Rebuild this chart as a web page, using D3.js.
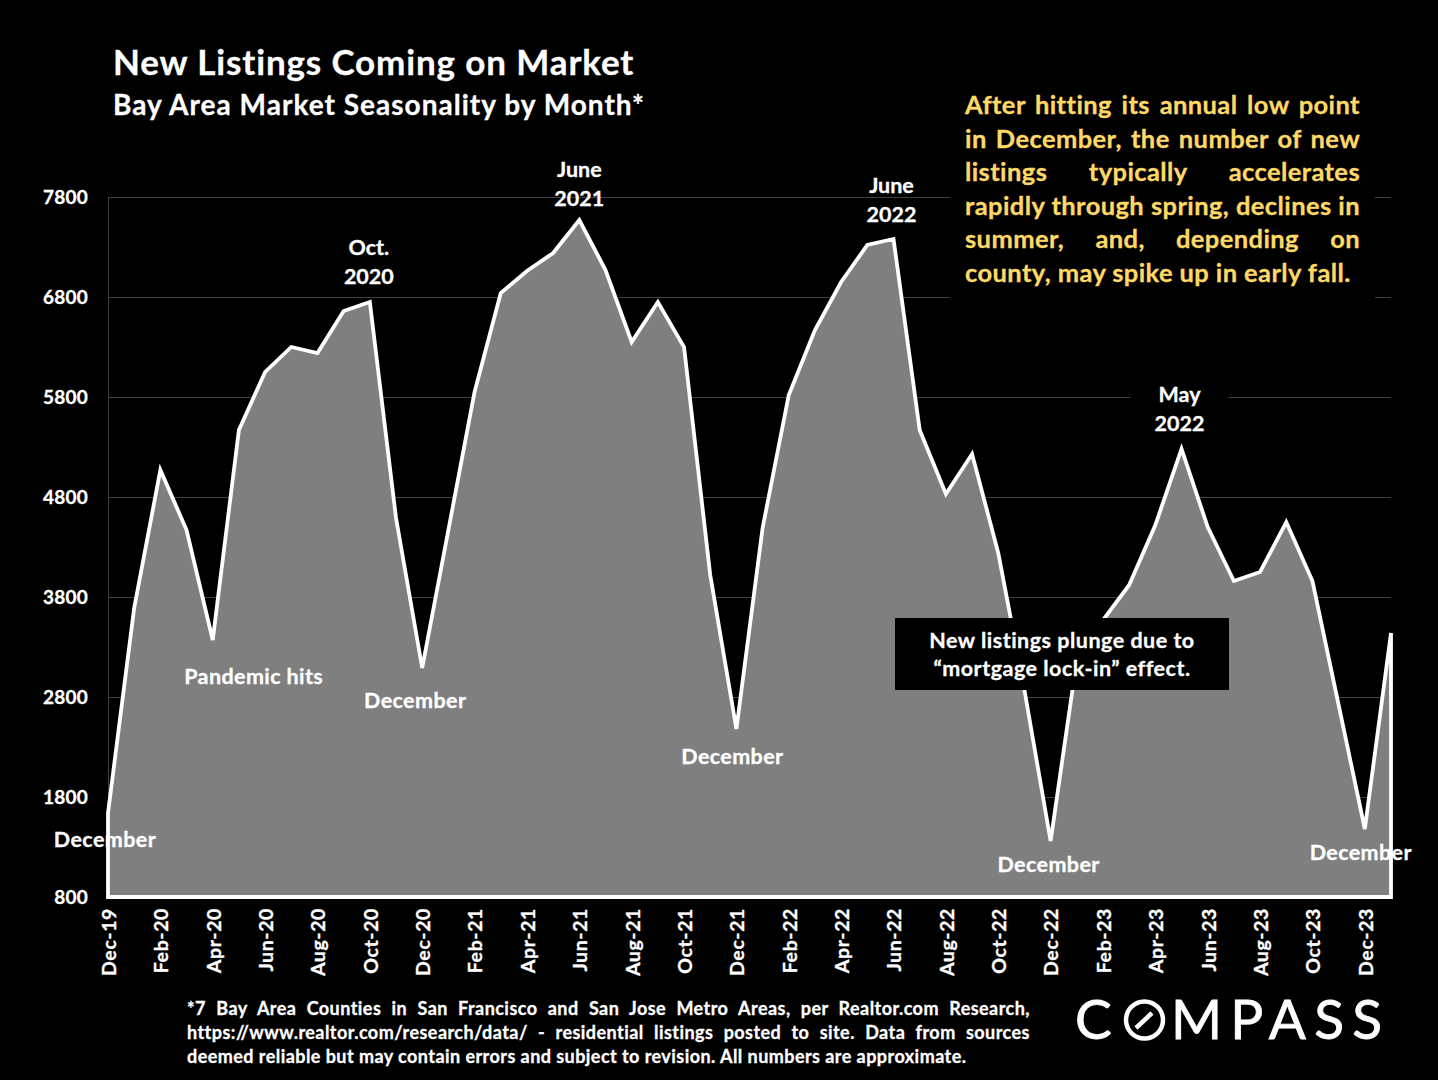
<!DOCTYPE html>
<html>
<head>
<meta charset="utf-8">
<script src="https://cdn.jsdelivr.net/npm/d3@7"></script>
<style>
html, body { margin: 0; padding: 0; background: #000; }
svg { display: block; }
text { font-family: Lato, "Open Sans", sans-serif; font-weight: 700; fill: #fff; stroke: #fff; stroke-width: 0.3px; }
</style>
</head>
<body>
<div id="chart"></div>
<script>
// data
var months = ["Dec-19","Jan-20","Feb-20","Mar-20","Apr-20","May-20","Jun-20","Jul-20","Aug-20","Sep-20","Oct-20","Nov-20",
	"Dec-20","Jan-21","Feb-21","Mar-21","Apr-21","May-21","Jun-21","Jul-21","Aug-21","Sep-21","Oct-21","Nov-21",
	"Dec-21","Jan-22","Feb-22","Mar-22","Apr-22","May-22","Jun-22","Jul-22","Aug-22","Sep-22","Oct-22","Nov-22",
	"Dec-22","Jan-23","Feb-23","Mar-23","Apr-23","May-23","Jun-23","Jul-23","Aug-23","Sep-23","Oct-23","Nov-23",
	"Dec-23","Jan-24"];
var listings = [1640,3690,5070,4470,3370,5470,6050,6300,6240,6660,6750,4590,
	3090,4470,5850,6840,7060,7240,7570,7070,6350,6750,6300,4020,
	2480,4490,5820,6470,6950,7320,7380,5470,4830,5230,4240,2870,
	1360,3170,3570,3920,4520,5280,4500,3960,4050,4550,3960,2720,
	1480,3440];
var yTicks = [800,1800,2800,3800,4800,5800,6800,7800];
var sideNote = ["After hitting its annual low point","in December, the number of new","listings typically accelerates",
	"rapidly through spring, declines in","summer, and, depending on","county, may spike up in early fall."];
var footnote = ["*7 Bay Area Counties in San Francisco and San Jose Metro Areas, per Realtor.com Research,",
	"https://www.realtor.com/research/data/ - residential listings posted to site.  Data from sources",
	"deemed reliable but may contain errors and subject to revision. All numbers are approximate."];
var calloutLines = ["New listings plunge due to","\u201cmortgage lock-in\u201d effect."];

var svg = d3.select("#chart").append("svg").attr("width",1438).attr("height",1080);

var x = d3.scalePoint().domain(months).range([108,1391]);
var y = d3.scaleLinear().domain([800,7800]).range([897,197]);

// gridlines + y labels
var yAxis = svg.append("g").attr("transform","translate(108,0)")
	.call(d3.axisLeft(y).tickValues(yTicks).tickFormat(d3.format("d")).tickSize(-1283).tickPadding(20));
yAxis.selectAll(".tick line").attr("stroke","#404040").attr("stroke-width",1);
yAxis.select(".domain").attr("stroke","#404040").attr("d","M0.5,197V897");
yAxis.selectAll("text").attr("dy","0.32em").style("font-size","19px").style("letter-spacing","0.2px");

// the area, closed so the white line also runs down the sides and along the base
var area = d3.area().x(function(d,i){ return x(months[i]); }).y0(y(800)).y1(function(d){ return y(d); });
svg.append("path").datum(listings).attr("d",area)
	.attr("fill","#7f7f7f").attr("stroke","#fff").attr("stroke-width",3.8).attr("stroke-linejoin","miter");

// x labels
var xAxis = svg.append("g").attr("transform","translate(0,897)")
	.call(d3.axisBottom(x).tickValues(months.filter(function(d,i){ return i%2==0 && i<49; })).tickSize(0));
xAxis.select(".domain").remove();
xAxis.selectAll("text")
	.attr("transform","rotate(-90)").attr("text-anchor","end")
	.attr("x",-11).attr("y",0.5).attr("dy","0.35em")
	.style("font-size","19.5px").style("letter-spacing","0.6px");

// stretches a line to a given width by opening up the word gaps
function justified(sel,width) {
	sel.each(function(){
		var t = d3.select(this);
		var gaps = t.text().trim().split(/\s+/).length-1;
		var extra = width-this.getComputedTextLength();
		t.style("word-spacing",(extra/gaps)+"px");
	});
}

// stretches a line to a given width by opening up the letters
function fitted(sel,width) {
	sel.each(function(){
		var t = d3.select(this).style("letter-spacing",null);
		var extra = width-this.getComputedTextLength();
		t.style("letter-spacing",(extra/(t.text().length-1))+"px");
	});
}

// labels on the chart
var labels = [
	{month:"Dec-19", lines:["December"], dx:-3, top:847},
	{month:"Apr-20", lines:["Pandemic hits"], dx:41, top:684},
	{month:"Oct-20", lines:["Oct.","2020"], dx:-1, top:255},
	{month:"Dec-20", lines:["December"], dx:-7, top:708},
	{month:"Jun-21", lines:["June","2021"], dx:0, top:177},
	{month:"Dec-21", lines:["December"], dx:-4, top:764},
	{month:"Jun-22", lines:["June","2022"], dx:-2, top:193},
	{month:"May-23", lines:["May","2022"], dx:-2, top:402, bg:true},
	{month:"Dec-22", lines:["December"], dx:-2, top:872},
	{month:"Dec-23", lines:["December"], dx:-4, top:860}
];
labels.forEach(function(l){
	if(l.bg) {
		svg.append("rect").attr("x",x(l.month)+l.dx-49).attr("y",l.top-20).attr("width",98).attr("height",56).attr("fill","#000");
	}
	l.lines.forEach(function(s,i){
		svg.append("text").attr("x",x(l.month)+l.dx).attr("y",l.top+i*28.5)
			.attr("text-anchor","middle").style("font-size","21.5px")
			.style("letter-spacing",l.lines.length>1 ? "0px" : "0.4px").text(s);
	});
});

// callout
svg.append("rect").attr("x",895).attr("y",618).attr("width",334).attr("height",72).attr("fill","#000");
svg.selectAll(".callout").data(calloutLines).enter().append("text").attr("class","callout")
	.attr("x",1062).attr("y",function(d,i){ return 647.5+i*28.5; })
	.attr("text-anchor","middle").style("font-size","21.5px").style("letter-spacing","0.5px").text(function(d){ return d; });

// titles
svg.append("text").attr("x",113).attr("y",75).style("font-size","35px").text("New Listings Coming on Market").call(fitted,521);
svg.append("text").attr("x",113).attr("y",115).style("font-size","28px").text("Bay Area Market Seasonality by Month*").call(fitted,531);

// side note on its black panel
svg.append("rect").attr("x",950).attr("y",90).attr("width",425).attr("height",210).attr("fill","#000");
svg.selectAll(".note").data(sideNote).enter().append("text").attr("class","note")
	.attr("x",965).attr("y",function(d,i){ return 114+i*33.6; })
	.style("font-size","25.5px").style("letter-spacing","0.4px").style("fill","#ffd966").style("stroke","#ffd966").text(function(d){ return d; })
	.filter(function(d,i){ return i<5; }).call(justified,395);

// footnote
svg.selectAll(".foot").data(footnote).enter().append("text").attr("class","foot")
	.attr("x",187).attr("y",function(d,i){ return 1014.5+i*24; })
	.style("font-size","18px").style("letter-spacing","0.45px").text(function(d){ return d; })
	.filter(function(d,i){ return i<2; }).call(justified,843);
svg.selectAll(".foot").filter(function(d,i){ return i==2; }).call(fitted,779);

// logo
var logo = svg.append("g");
logo.append("text").attr("x",1075).attr("y",1039).style("font-size","55px").style("font-weight",400).style("stroke-width","0.8px").text("C");
logo.append("circle").attr("cx",1144.5).attr("cy",1020).attr("r",18.5).attr("fill","none").attr("stroke","#fff").attr("stroke-width",4.5);
logo.append("line").attr("x1",1136).attr("y1",1028).attr("x2",1152).attr("y2",1013).attr("stroke","#fff").attr("stroke-width",4.5);
logo.append("text").attr("x",1171).attr("y",1039).style("font-size","55px").style("font-weight",400).style("stroke-width","0.8px").style("letter-spacing","8.2px").text("MPASS");
</script>
</body>
</html>
